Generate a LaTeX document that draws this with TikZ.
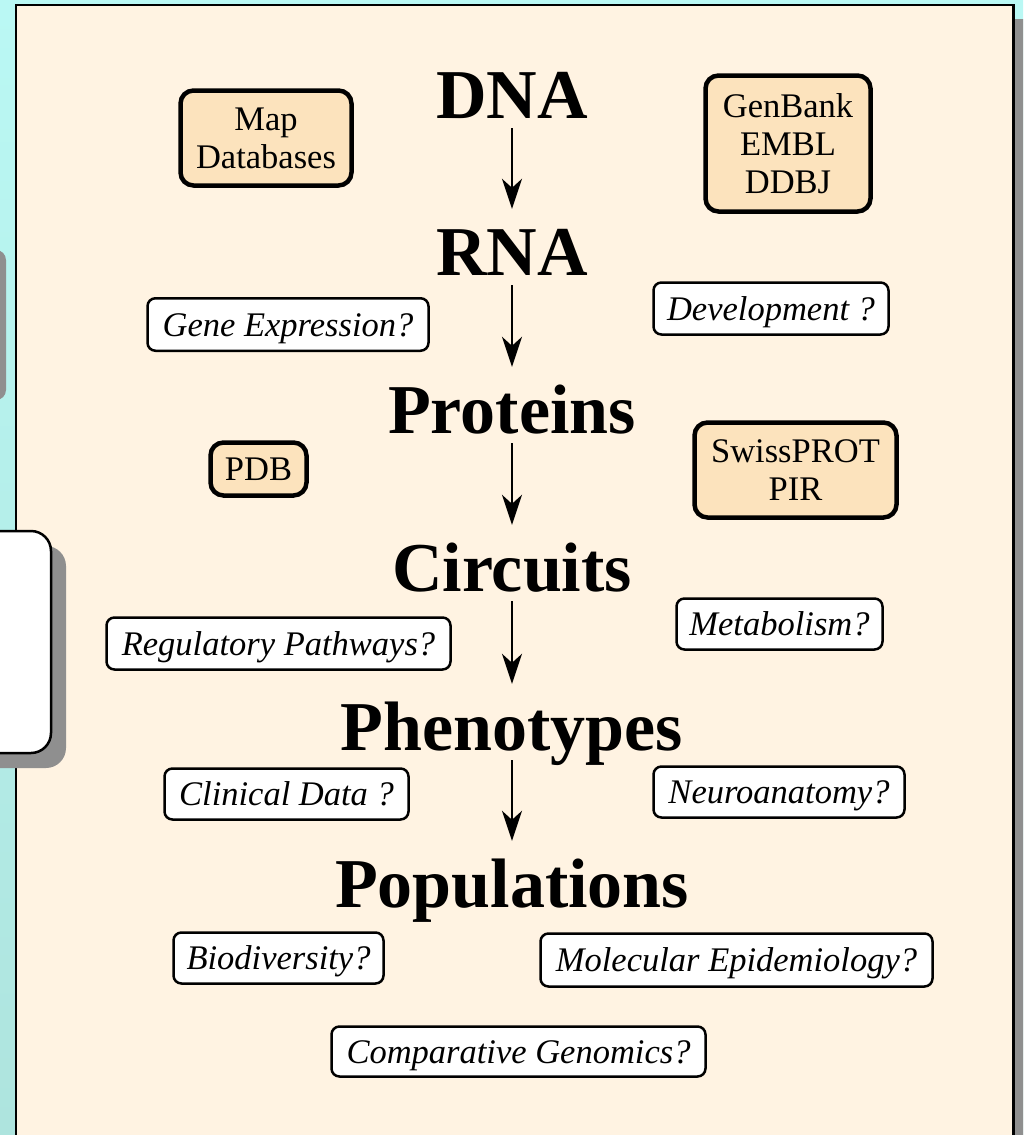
\documentclass[tikz,border=0pt]{standalone}
\usepackage{fontspec}
\setmainfont{Liberation Serif}
\usetikzlibrary{arrows.meta}
\definecolor{cyantop}{RGB}{186,248,244}
\definecolor{cyanbot}{RGB}{174,228,222}
\definecolor{cream}{RGB}{255,243,226}
\definecolor{tanfill}{RGB}{252,227,189}
\definecolor{shgray}{RGB}{143,143,143}
\newcommand{\titlefnt}{\fontsize{70}{84}\selectfont\bfseries}
\newcommand{\boxfnt}{\fontsize{34.5}{38}\selectfont}
\tikzset{
  ttl/.style={font=\titlefnt, text height=48pt, text depth=0pt, inner sep=0pt, anchor=base},
  dbbox/.style={draw, line width=4.5pt, rounded corners=13pt, fill=tanfill, font=\boxfnt, align=center, inner sep=0pt},
  qbox/.style={draw, line width=2.5pt, rounded corners=8pt, fill=white, font=\boxfnt\itshape, inner sep=0pt, text height=23pt, text depth=0pt},
  flow/.style={line width=2.5pt, -{Stealth[length=30pt,width=20pt,inset=9pt]}, shorten <=10pt, shorten >=18pt}
}
\begin{document}
\begin{tikzpicture}[x=1pt,y=-1pt]
\useasboundingbox (0,0) rectangle (1023,1135);
\clip (0,0) rectangle (1023,1135);
% background
\fill[top color=cyantop, bottom color=cyanbot] (0,0) rectangle (1023,1135);
% panel
\fill[shgray] (1015,19) rectangle (1030,1140);
\draw[line width=2.5pt, fill=cream] (16,5) rectangle (1013.5,1145);
% left side decorations
\fill[shgray, rounded corners=10pt] (-40,250) rectangle (6,400);
\fill[shgray, rounded corners=20pt] (-40,546) rectangle (66,768);
\draw[line width=2.5pt, fill=white, rounded corners=20pt] (-40,531) rectangle (51,753);

% titles
\node[ttl] (dna) at (512,118) {DNA};
\node[ttl] (rna) at (512,275) {RNA};
\node[ttl] (prot) at (512,433) {Proteins};
\node[ttl] (circ) at (512,591) {Circuits};
\node[ttl] (phen) at (512,750) {Phenotypes};
\node[ttl] (popu) at (512,907) {Populations};

\draw[flow] (dna.south) -- (rna.north);
\draw[flow] (rna.south) -- (prot.north);
\draw[flow] (prot.south) -- (circ.north);
\draw[flow] (circ.south) -- (phen.north);
\draw[flow] (phen.south) -- (popu.north);

% databases
\node[dbbox, minimum width=171pt, minimum height=95pt] (mapdb) at (266,138) {Map\\Databases};
\node[dbbox, minimum width=165pt, minimum height=136pt] (genbank) at (788,143.5) {GenBank\\EMBL\\DDBJ};
\node[dbbox, minimum width=96pt, minimum height=53pt] (pdb) at (258.5,469) {PDB};
\node[dbbox, minimum width=202pt, minimum height=95pt] (swiss) at (795.5,470) {SwissPROT\\PIR};

% questions
\node[qbox, minimum width=281pt, minimum height=52.5pt] (geneexp) at (288,324.5) {Gene Expression?};
\node[qbox, minimum width=235pt, minimum height=52pt] (devel) at (771,308.5) {Development ?};
\node[qbox, minimum width=344pt, minimum height=52pt] (regpath) at (278.5,643.5) {Regulatory Pathways?};
\node[qbox, minimum width=206pt, minimum height=51pt] (metab) at (779.5,624) {Metabolism?};
\node[qbox, minimum width=244pt, minimum height=51pt] (clin) at (286.5,794) {Clinical Data ?};
\node[qbox, minimum width=251pt, minimum height=51pt] (neuro) at (779,792) {Neuroanatomy?};
\node[qbox, minimum width=210pt, minimum height=51pt] (biodiv) at (278.5,958) {Biodiversity?};
\node[qbox, minimum width=392pt, minimum height=53pt] (molepi) at (736.5,960) {Molecular Epidemiology?};
\node[qbox, minimum width=374pt, minimum height=50pt] (compgen) at (518.5,1051.5) {Comparative Genomics?};
\end{tikzpicture}
\end{document}
